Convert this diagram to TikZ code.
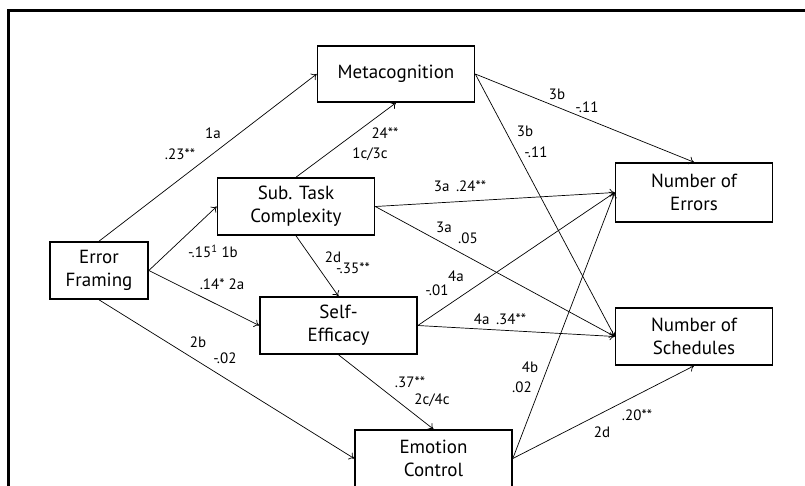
\documentclass[tikz,border=0pt]{standalone}
\usepackage{fontspec}
\setmainfont{PT Sans}
\usetikzlibrary{arrows.meta}

\begin{document}
\begin{tikzpicture}[x=1pt, y=-1pt,
		box/.style={draw, line width=1.6pt, minimum width=157pt, minimum height=56pt, inner sep=0pt, align=center, font=\fontsize{19}{23}\selectfont},
		lab/.style={inner sep=0pt, font=\fontsize{15}{17}\selectfont},
		link/.style={line width=0.7pt, -{To[length=5pt,width=8pt]}}]
	\useasboundingbox (0,0) rectangle (805,485);
	\draw[line width=3pt] (8,10) rectangle (850,530);
	% variables
	\node[box, minimum width=98pt, minimum height=57pt] (ef) at (99,270.5) {Error\\Framing};
	\node[box] (meta) at (396,74) {Metacognition};
	\node[box, minimum height=57pt] (stc) at (296,206.5) {Sub. Task\\Complexity};
	\node[box, minimum height=57pt] (se) at (338.5,325.5) {Self-\\Efficacy};
	\node[box, minimum height=57pt] (ec) at (433.5,458.5) {Emotion\\Control};
	\node[box, minimum height=59pt] (err) at (694,192.5) {Number of\\Errors};
	\node[box, minimum height=57pt] (sched) at (694,336.5) {Number of\\Schedules};
	% paths
	\draw[link] (ef.north) -- (meta.west);
	\draw[link] (ef.east) -- (stc.west);
	\draw[link] (ef.east) -- (se.west);
	\draw[link] (ef.south) -- (ec.west);
	\draw[link] (stc.north) -- (meta.south);
	\draw[link] (stc.south) -- (se.north);
	\draw[link] (stc.east) -- (err.west);
	\draw[link] (stc.east) -- (sched.west);
	\draw[link] (se.east) -- (err.west);
	\draw[link] (se.east) -- (sched.west);
	\draw[link] (se.south) -- (ec.north);
	\draw[link] (ec.east) -- (err.west);
	\draw[link] (ec.east) -- (sched.south);
	\draw[link] (meta.east) -- (err.north);
	\draw[link] (meta.east) -- (sched.west);
	% coefficients
	\node[lab] (l1a) at (213,133) {1a};
	\node[lab] (b1a) at (180,154) {.23**};
	\node[lab] (l1b) at (213,251) {-.15\textsuperscript{1} 1b};
	\node[lab] (l2a) at (222,284) {.14* 2a};
	\node[lab] (l2b) at (198,342) {2b};
	\node[lab] (b2b) at (225,358) {-.02};
	\node[lab] (b1c) at (385,133) {24**};
	\node[lab] (l1c) at (370,154) {1c/3c};
	\node[lab] (l2d) at (333,257) {2d};
	\node[lab] (b2d) at (353,268) {-.35**};
	\node[lab] (l3a) at (460,186) {3a\, .24**};
	\node[lab] (m3a) at (444,227) {3a};
	\node[lab] (c3a) at (468,238) {.05};
	\node[lab] (l4a) at (456,276) {4a};
	\node[lab] (b4a) at (437,290) {-.01};
	\node[lab] (m4a) at (500,319) {4a\, .34**};
	\node[lab] (b2c) at (410,382) {.37**};
	\node[lab] (l2c) at (432,400) {2c/4c};
	\node[lab] (l4b) at (530,367) {4b};
	\node[lab] (b4b) at (522,387) {.02};
	\node[lab] (c2d) at (637,415) {.20**};
	\node[lab] (m2d) at (602,432) {2d};
	\node[lab] (l3b) at (557,94) {3b};
	\node[lab] (b3b) at (587,107) {-.11};
	\node[lab] (m3b) at (525,131) {3b};
	\node[lab] (c3b) at (536,152) {-.11};
\end{tikzpicture}
\end{document}
